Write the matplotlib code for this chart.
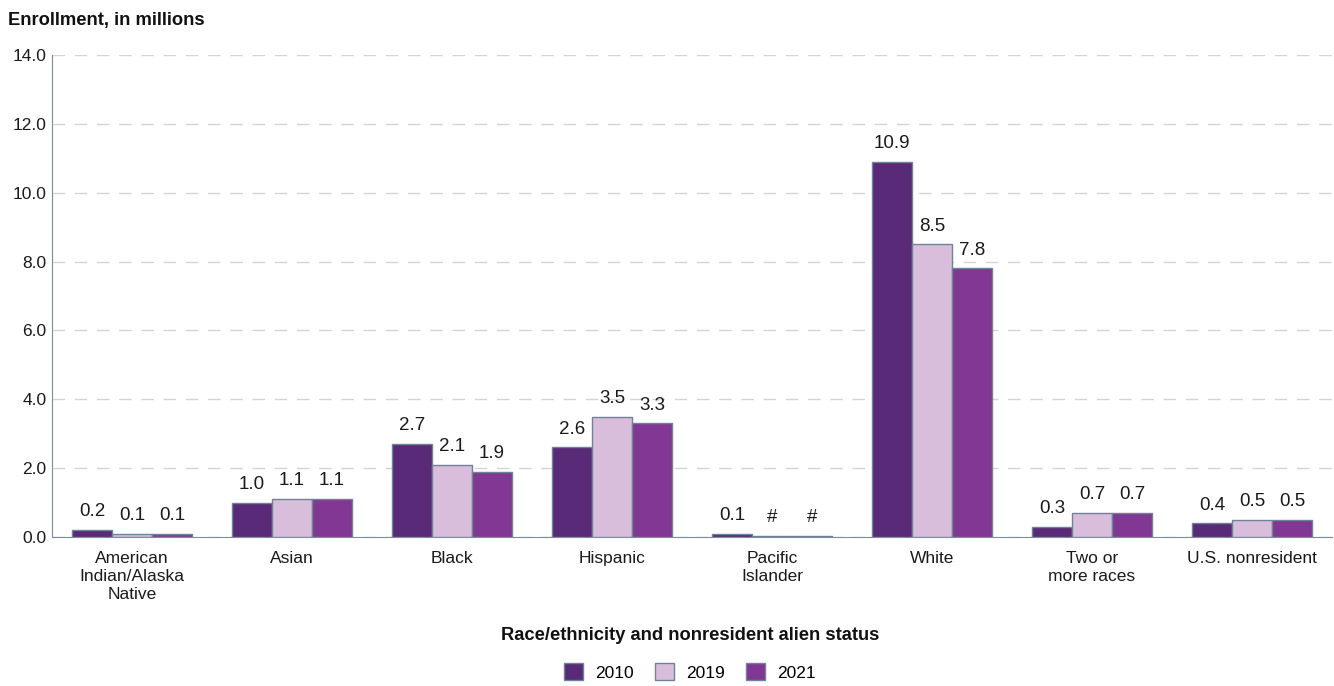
import matplotlib.pyplot as plt
import numpy as np

# Enrollment by race/ethnicity, in millions
groups = ["American\nIndian/Alaska\nNative", "Asian", "Black", "Hispanic",
          "Pacific\nIslander", "White", "Two or\nmore races", "U.S. nonresident"]
years = ["2010", "2019", "2021"]
enroll_2010 = [0.2, 1.0, 2.7, 2.6, 0.1, 10.9, 0.3, 0.4]
enroll_2019 = [0.1, 1.1, 2.1, 3.5, 0.04, 8.5, 0.7, 0.5]
enroll_2021 = [0.1, 1.1, 1.9, 3.3, 0.04, 7.8, 0.7, 0.5]
labels_2010 = ["0.2", "1.0", "2.7", "2.6", "0.1", "10.9", "0.3", "0.4"]
labels_2019 = ["0.1", "1.1", "2.1", "3.5", "#", "8.5", "0.7", "0.5"]
labels_2021 = ["0.1", "1.1", "1.9", "3.3", "#", "7.8", "0.7", "0.5"]

colors = ["#582a78", "#d8bedb", "#813793"]
edge = "#6e8494"

plt.rcParams['font.family'] = ['Liberation Sans', 'DejaVu Sans']

fig = plt.figure(figsize=(13.34, 6.86), dpi=100)
ax = fig.add_axes([52 / 1334, 1 - 537 / 686, 1280 / 1334, (537 - 55) / 686])

x = np.arange(len(groups))
w = 0.25
series = [enroll_2010, enroll_2019, enroll_2021]
labels = [labels_2010, labels_2019, labels_2021]
for i, (vals, labs) in enumerate(zip(series, labels)):
    bars = ax.bar(x + (i - 1) * w, vals, w, color=colors[i], edgecolor=edge,
                  linewidth=1.0, label=years[i], zorder=3)
    for b, lab in zip(bars, labs):
        ax.annotate(lab, (b.get_x() + b.get_width() / 2, b.get_height()),
                    xytext=(0, 7), textcoords="offset points",
                    ha="center", va="bottom", fontsize=13.5, color="#1a1a1a")

ax.set_xlim(-0.5, len(groups) - 0.5)
ax.set_ylim(0, 14)
ax.set_yticks(np.arange(0, 15, 2))
ax.set_yticklabels([f"{v:.1f}" for v in np.arange(0, 15, 2)], fontsize=12.5)
ax.set_xticks(x)
ax.set_xticklabels(groups, fontsize=12.5, linespacing=1.24)
ax.tick_params(axis="both", length=0, colors="#1a1a1a")
ax.tick_params(axis="x", pad=10)
ax.tick_params(axis="y", pad=4)

ax.yaxis.grid(True, linestyle=(0, (9, 7)), color="#d4d4d4", linewidth=1.0, zorder=0)
for s in ["top", "right"]:
    ax.spines[s].set_visible(False)
ax.spines["left"].set_color("#7d8d9c")
ax.spines["bottom"].set_color("#7d8d9c")

fig.text(8 / 1334, 1 - 20 / 686, "Enrollment, in millions", fontsize=13.2,
         fontweight="bold", va="center", ha="left", color="#111111")
fig.text(690 / 1334, 1 - 635 / 686, "Race/ethnicity and nonresident alien status",
         fontsize=13.2, fontweight="bold", va="center", ha="center", color="#111111")

fig.legend(loc="center", bbox_to_anchor=(690 / 1334, 1 - 672 / 686), ncol=3,
           frameon=False, fontsize=12.5, handlelength=1.1, handleheight=1.1,
           handletextpad=0.7, columnspacing=1.2)

plt.savefig("out.png", dpi=100)
